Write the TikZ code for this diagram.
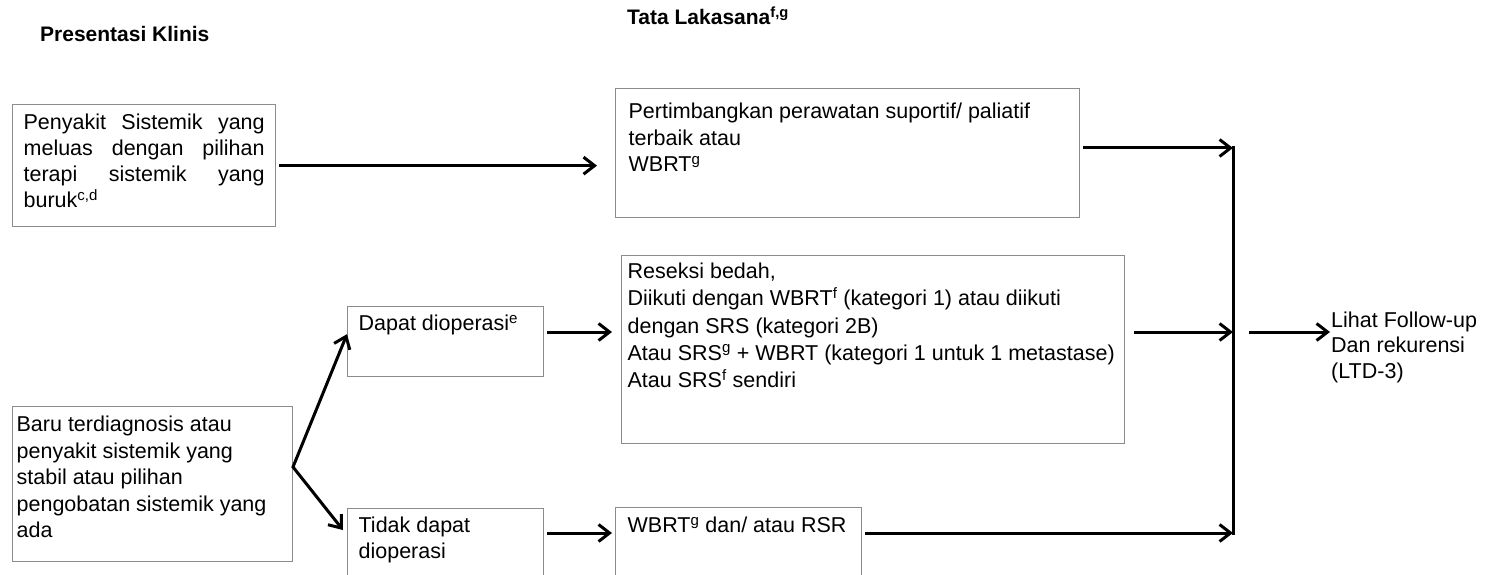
\documentclass[tikz,border=0pt]{standalone}
\usepackage{fontspec}
\setmainfont{Liberation Sans}
\usetikzlibrary{arrows.meta}

\definecolor{boxline}{gray}{0.55}

% Box body: #1 width, #2 height, #3 left padding, #4 first baseline depth,
% #5 line spacing, #6 text (top aligned, ragged right)
\newcommand\panelbody[6]{%
  \parbox[c][#2][t]{#1}{\fontsize{21.5pt}{#5}\selectfont\raggedright
    \leftskip=#3\relax\rule{0pt}{#4}#6}}

\begin{document}
\begin{tikzpicture}[x=1pt,y=-1pt,
  panel/.style={draw=boxline,line width=1.3pt,inner sep=0pt,anchor=north west},
  arr/.style={line width=3pt,-{Straight Barb[length=11pt,width=17pt]}},
  forkarr/.style={line width=3pt,{Straight Barb[length=11pt,width=17pt]}-{Straight Barb[length=11pt,width=17pt]}},
  title/.style={font=\fontsize{21pt}{25pt}\selectfont\bfseries,inner sep=0pt,anchor=base west}]

\path[use as bounding box] (0,0) rectangle (1486,575);
\clip (0,0) rectangle (1486,575);

% column headings
\node[title] (tClin) at (40,42) {Presentasi Klinis};
\node[title] (tTata) at (627,25) {Tata Lakasana\textsuperscript{f,g}};

% clinical presentation
\node[panel] (A) at (12,104) {\panelbody{263pt}{122pt}{11pt}{25pt}{26pt}{%
  \makebox[241pt][s]{Penyakit Sistemik yang}\\
  \makebox[241pt][s]{meluas dengan pilihan}\\
  \makebox[241pt][s]{terapi sistemik yang}\\
  buruk\textsuperscript{c,d}}};
\node[panel] (E) at (12,406) {\panelbody{280pt}{155pt}{4pt}{25pt}{26.5pt}{%
  Baru terdiagnosis atau\\
  penyakit sistemik yang\\
  stabil atau pilihan\\
  pengobatan sistemik yang\\
  ada}};

% operability
\node[panel] (D) at (347,306) {\panelbody{196pt}{70pt}{11pt}{24pt}{26pt}{%
  Dapat dioperasi\textsuperscript{e}}};
\node[panel] (F) at (347,508) {\panelbody{196pt}{100pt}{11pt}{24pt}{26pt}{%
  Tidak dapat\\
  dioperasi}};

% management
\node[panel] (B) at (615,88) {\panelbody{464pt}{129pt}{13pt}{30pt}{26.5pt}{%
  Pertimbangkan perawatan suportif/ paliatif\\
  terbaik atau\\
  WBRT\textsuperscript{g}}};
\node[panel] (C) at (621,255) {\panelbody{503pt}{188pt}{6pt}{23pt}{27.25pt}{%
  Reseksi bedah,\\
  Diikuti dengan WBRT\textsuperscript{f} (kategori 1) atau diikuti\\
  dengan SRS (kategori 2B)\\
  Atau SRS\textsuperscript{g} + WBRT (kategori 1 untuk 1 metastase)\\
  Atau SRS\textsuperscript{f} sendiri}};
\node[panel] (G) at (615,507) {\panelbody{246pt}{100pt}{12pt}{25pt}{26pt}{%
  WBRT\textsuperscript{g} dan/ atau RSR}};

% follow-up
\node[inner sep=0pt,anchor=base west] (out) at (1331,327)
  {\parbox[t]{154pt}{\fontsize{21.5pt}{25.5pt}\selectfont\raggedright
   Lihat Follow-up\\Dan rekurensi\\(LTD-3)}};

% junction points
\coordinate (fork) at (293,467);
\coordinate (rowTwo) at (0,332);
\coordinate (rowThree) at (0,533);
\coordinate (busTop) at (1233,148);
\coordinate (busMid) at (1233,332);
\coordinate (busBot) at (1233,533);

% connectors
\draw[arr] ([xshift=3pt]A.east) -- ([xshift=-18pt]B.west |- A.east);
\draw[forkarr] ([yshift=7.5pt]D.west) -- (fork) -- ([xshift=-4pt,yshift=-22pt]F.north west);
\draw[arr] ([xshift=3pt]D.east |- rowTwo) -- ([xshift=-9pt]C.west |- rowTwo);
\draw[arr] ([xshift=3pt]F.east |- rowThree) -- ([xshift=-3pt]G.west |- rowThree);

\draw[arr] ([xshift=3pt]B.east |- busTop) -- (busTop);
\draw[arr] ([xshift=9pt]C.east |- rowTwo) -- (busMid);
\draw[arr] ([xshift=3pt]G.east |- rowThree) -- (busBot);
\draw[line width=3pt,line cap=rect] (busTop) -- (busBot);
\draw[arr] ([xshift=16pt]busMid) -- ([xshift=-1pt]out.west |- rowTwo);

\end{tikzpicture}
\end{document}
